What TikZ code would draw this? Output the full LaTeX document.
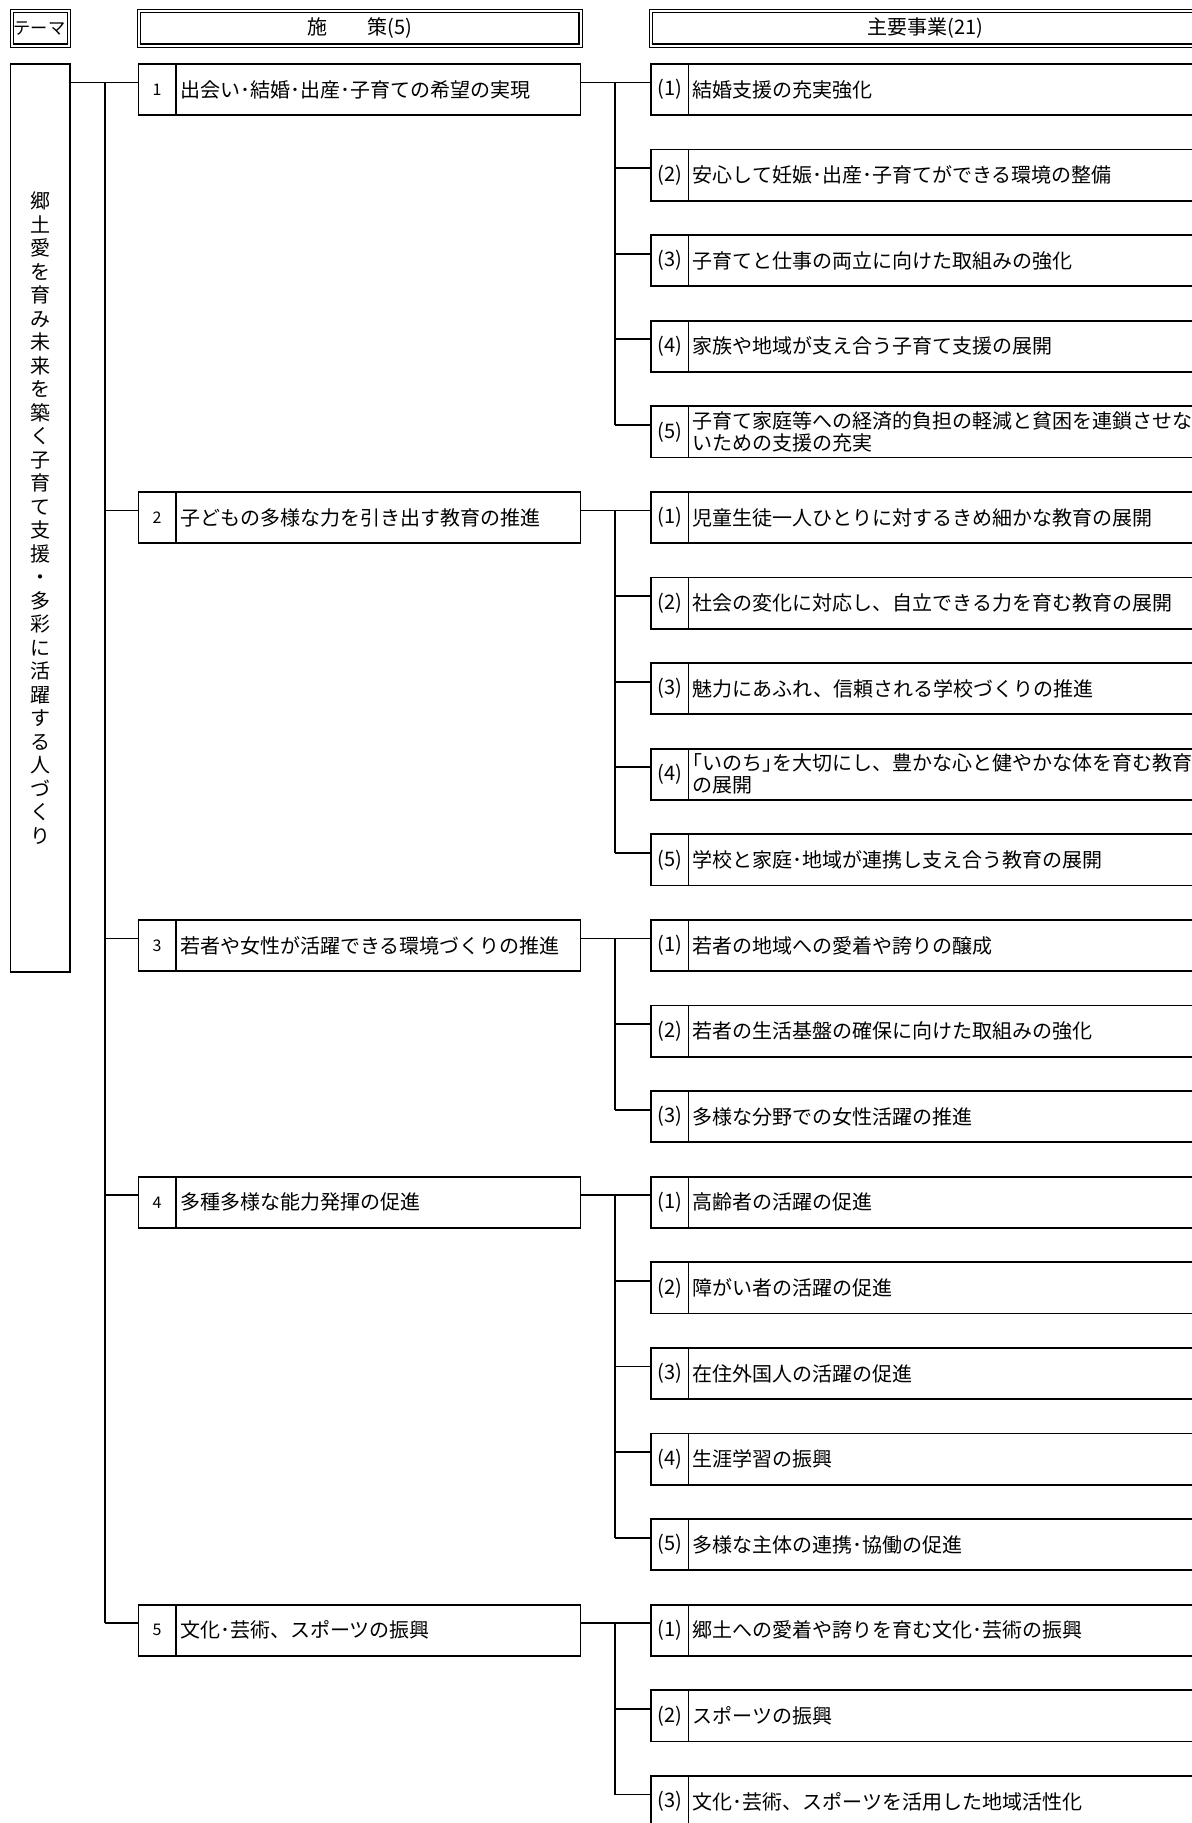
\documentclass[tikz,border=0pt]{standalone}
\usepackage{fontspec}
\setmainfont{Noto Sans CJK JP}
\usetikzlibrary{positioning}

\tikzset{
  hdr/.style={draw, double, line width=0.6pt, double distance=1pt, minimum height=17.2pt, inner sep=0pt, outer sep=0pt, font=\fontsize{10}{12}\selectfont},
  numbox/.style={draw, line width=0.9pt, minimum height=25.6pt, inner sep=0pt, outer sep=0pt, anchor=west},
  txtbox/.style={draw, line width=0.9pt, minimum height=25.6pt, inner xsep=2.2pt, inner ysep=0pt, outer sep=0pt, align=left, font=\fontsize{10}{11}\selectfont},
  link/.style={line width=0.9pt},
}

\begin{document}
\begin{tikzpicture}
    \fill[white] (0,0) rectangle (596pt,-911.5pt);
    \useasboundingbox (0,0) rectangle (596pt,-911.5pt);

    % headers
    \node [hdr, text width=26.5pt, inner xsep=1pt, align=left, font=\fontsize{8.6}{10}\selectfont] (hdtheme) at (20.1pt,-14.25pt) {テーマ};
    \node [hdr, minimum width=220.8pt] (hdpolicy) at (179.9pt,-14.25pt) {施　　策(5)};
    \node [hdr, minimum width=274.8pt] (hdmain) at (462.9pt,-14.25pt) {主要事業(21)};

    % theme
    \node [draw, line width=0.9pt, minimum width=29.65pt, minimum height=454pt, inner sep=0pt, outer sep=0pt, align=center, font=\fontsize{10}{11.75}\selectfont] (theme) at (20.1pt,-259pt)
    {郷\\土\\愛\\を\\育\\み\\未\\来\\を\\築\\く\\子\\育\\て\\支\\援\\・\\多\\彩\\に\\活\\躍\\す\\る\\人\\づ\\く\\り};

    % policies
    \foreach \p/\row/\txt in {1/0/{出会い･結婚･出産･子育ての希望の実現},
                              2/5/{子どもの多様な力を引き出す教育の推進},
                              3/10/{若者や女性が活躍できる環境づくりの推進},
                              4/13/{多種多様な能力発揮の促進},
                              5/18/{文化･芸術、スポーツの振興}} {
      \pgfmathsetmacro\yy{-44.75-42.8*\row}
      \node [numbox, minimum width=18.6pt, font=\fontsize{8}{9}\selectfont] (pn\p) at (69.2pt,\yy pt) {\p};
      \node [txtbox, text width=198pt, right=0pt of pn\p] (pt\p) {\txt};
      \coordinate (q\p) at ([yshift=3.5pt]pn\p.west);
    }

    % main projects
    \foreach \row/\idx/\txt in {0/1/{結婚支援の充実強化},
                                1/2/{安心して妊娠･出産･子育てができる環境の整備},
                                2/3/{子育てと仕事の両立に向けた取組みの強化},
                                3/4/{家族や地域が支え合う子育て支援の展開},
                                4/5/{子育て家庭等への経済的負担の軽減と貧困を連鎖させな\\いための支援の充実},
                                5/1/{児童生徒一人ひとりに対するきめ細かな教育の展開},
                                6/2/{社会の変化に対応し、自立できる力を育む教育の展開},
                                7/3/{魅力にあふれ、信頼される学校づくりの推進},
                                8/4/{｢いのち｣を大切にし、豊かな心と健やかな体を育む教育\\の展開},
                                9/5/{学校と家庭･地域が連携し支え合う教育の展開},
                                10/1/{若者の地域への愛着や誇りの醸成},
                                11/2/{若者の生活基盤の確保に向けた取組みの強化},
                                12/3/{多様な分野での女性活躍の推進},
                                13/1/{高齢者の活躍の促進},
                                14/2/{障がい者の活躍の促進},
                                15/3/{在住外国人の活躍の促進},
                                16/4/{生涯学習の振興},
                                17/5/{多様な主体の連携･協働の促進},
                                18/1/{郷土への愛着や誇りを育む文化･芸術の振興},
                                19/2/{スポーツの振興},
                                20/3/{文化･芸術、スポーツを活用した地域活性化}} {
      \pgfmathsetmacro\yy{-44.75-42.8*\row}
      \node [numbox, minimum width=18.75pt, font=\fontsize{10}{11}\selectfont] (in\row) at (325.5pt,\yy pt) {(\idx)};
      \node [txtbox, text width=275pt, right=0pt of in\row] (it\row) {\txt};
      \coordinate (c\row) at ([yshift=3.5pt]in\row.west);
    }

    % theme -> policies
    \coordinate (trA) at (52.35pt,0);
    \draw [link] (theme.east |- q1) -- (q1);
    \draw [link] (trA |- q1) -- (trA |- q5);
    \foreach \p in {2,...,5}
      \draw [link] (trA |- q\p) -- (q\p);

    % policies -> main projects
    \coordinate (trB) at (307.5pt,0);
    \foreach \p/\a/\b in {1/0/4, 2/5/9, 3/10/12, 4/13/17, 5/18/20} {
      \draw [link] ([yshift=3.5pt]pt\p.east) -- (c\a);
      \draw [link] (trB |- c\a) -- (trB |- c\b);
      \foreach \k in {\a,...,\b}
        \draw [link] (trB |- c\k) -- (c\k);
    }
\end{tikzpicture}
\end{document}
